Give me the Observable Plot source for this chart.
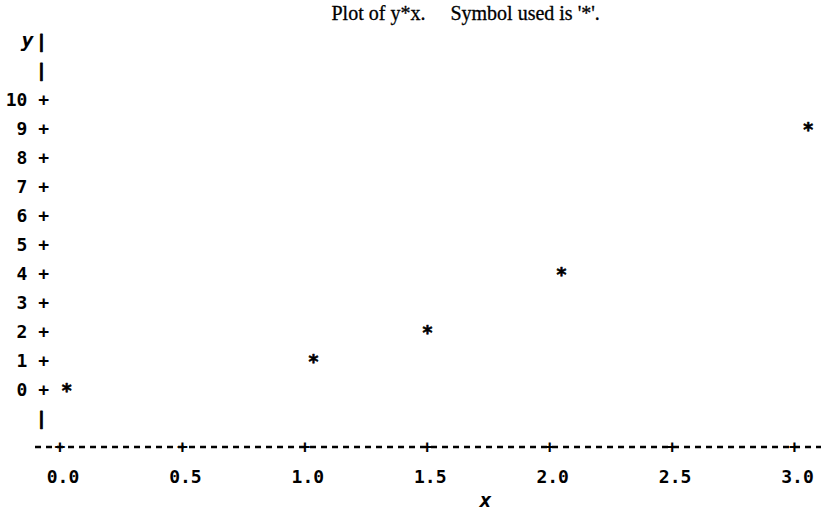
<!DOCTYPE html>
<html>
<head>
<meta charset="utf-8">
<script src="https://cdn.jsdelivr.net/npm/d3@7"></script>
<script src="https://cdn.jsdelivr.net/npm/@observablehq/plot@0.6"></script>
<style>
  html, body { margin: 0; padding: 0; background: #fff; }
</style>
</head>
<body>
<div id="chart"></div>
<script>
// Data
const xs = [0.027, 1.035, 1.501, 2.048, 3.056];
const ys = [0, 1, 2, 4, 9];
const yTicks = [0, 1, 2, 3, 4, 5, 6, 7, 8, 9, 10];
const xTicks = [0, 0.5, 1, 1.5, 2, 2.5, 3];
const yBarRows = [-1, 11, 12];
const xAxisRow = -1.95;
const xAxisExtent = [-0.1, 3.12];
const titleText = "Plot of y*x.\u00a0\u00a0\u00a0\u00a0 Symbol used is '*'.";
const xLabel = "x";
const yLabel = "y";

const points = xs.map((x, i) => ({x, y: ys[i]}));
const mono = "DejaVu Sans Mono";

const chart = Plot.plot({
  width: 821,
  height: 512,
  margin: 0,
  style: {background: "#fff", color: "#000"},
  x: {domain: [0, 3], range: [59.5, 794], axis: null},
  y: {domain: [0, 10], range: [390, 100], axis: null},
  marks: [
    // title
    Plot.text([titleText], {frameAnchor: "top-left", dx: 331, dy: 13, lineAnchor: "middle",
      textAnchor: "start", fontFamily: "Liberation Serif", fontSize: 20,
      fill: "#000", stroke: "#000", strokeWidth: 0.3}),
    // y tick labels with "+"
    Plot.text(yTicks, {y: d => d, text: d => `${d} +`, frameAnchor: "left", dx: 48.5,
      textAnchor: "end", fontFamily: mono, fontWeight: "bold", fontSize: 18, fill: "#000"}),
    // vertical bars of the y axis
    Plot.text(yBarRows, {y: d => d, text: () => "|", frameAnchor: "left", dx: 41,
      textAnchor: "middle", fontFamily: mono, fontWeight: "bold", fontSize: 18,
      fill: "#000", stroke: "#000", strokeWidth: 0.8}),
    // y label
    Plot.text([yLabel], {frameAnchor: "top-left", dx: 33, dy: 40, lineAnchor: "middle",
      textAnchor: "end", fontFamily: mono, fontStyle: "italic", fontWeight: "bold", fontSize: 20,
      fill: "#000"}),
    // dashed x axis line
    Plot.ruleY([xAxisRow], {x1: xAxisExtent[0], x2: xAxisExtent[1], stroke: "#000",
      strokeWidth: 2.5, strokeDasharray: "6,5"}),
    // "+" ticks on the x axis
    Plot.text(xTicks, {x: d => d, y: () => xAxisRow, text: () => "+",
      fontFamily: mono, fontWeight: "bold", fontSize: 18, fill: "#000"}),
    // x tick labels
    Plot.text(xTicks, {x: d => d, y: () => -3.0, dx: 3, text: d => d3.format(".1f")(d),
      fontFamily: mono, fontWeight: "bold", fontSize: 18, fill: "#000"}),
    // x label
    Plot.text([xLabel], {frameAnchor: "bottom-left", dx: 485, dy: -12, lineAnchor: "middle",
      textAnchor: "middle", fontFamily: mono, fontStyle: "italic", fontWeight: "bold", fontSize: 20,
      fill: "#000"}),
    // data points
    Plot.text(points, {x: "x", y: "y", text: () => "*",
      fontFamily: mono, fontWeight: "bold", fontSize: 19, fill: "#000", stroke: "#000", strokeWidth: 0.6})
  ]
});
document.getElementById("chart").appendChild(chart);
</script>
</body>
</html>
